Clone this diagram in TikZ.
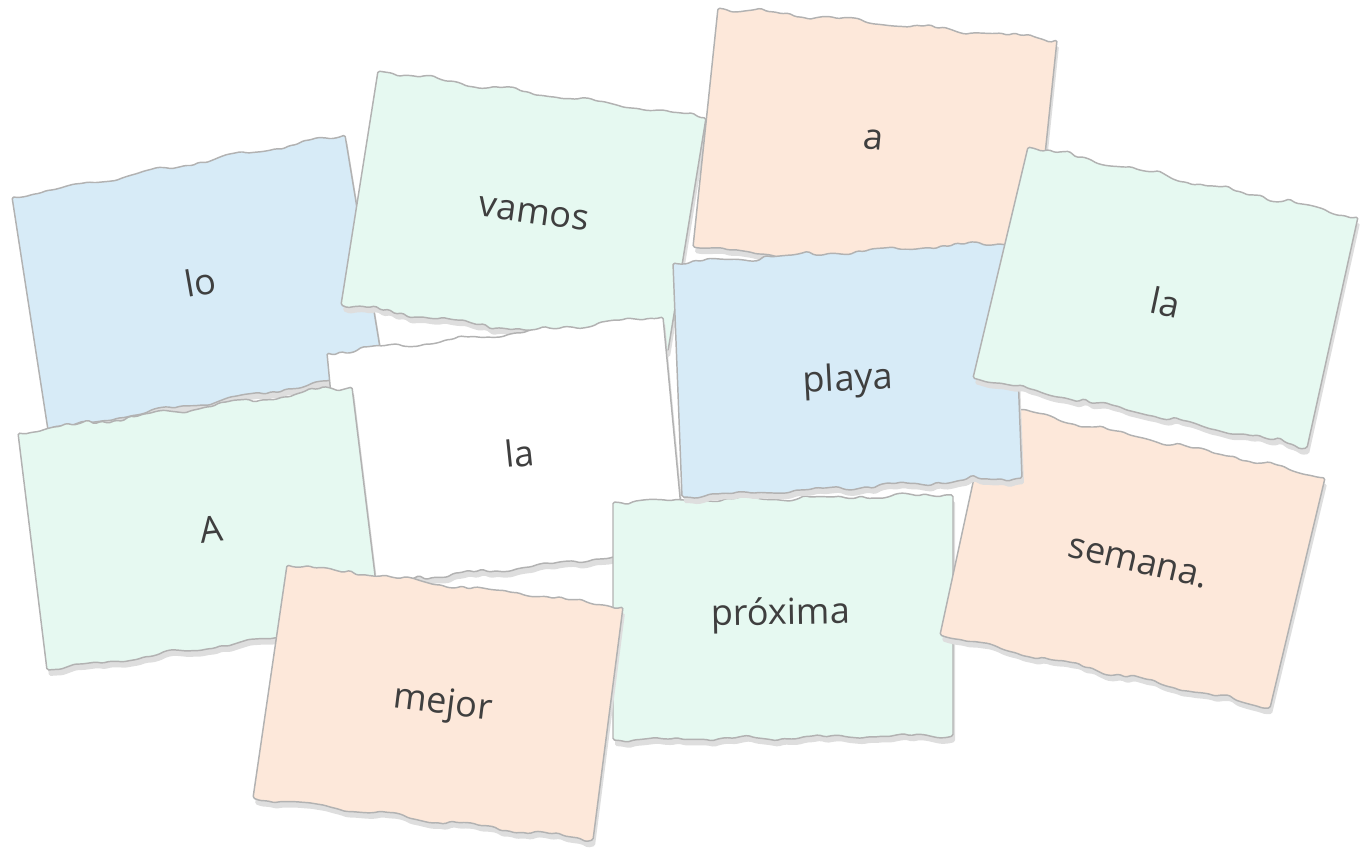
\documentclass[tikz,border=0pt]{standalone}
\usepackage{fontspec}
\setmainfont{Open Sans}
\usetikzlibrary{calc}
\definecolor{cblue}{HTML}{D7EBF7}
\definecolor{cgreen}{HTML}{E6F9F1}
\definecolor{cpeach}{HTML}{FDE8DA}
\definecolor{cwhite}{HTML}{FFFFFF}
\definecolor{edgegray}{HTML}{B2B2B2}
\definecolor{shadowgray}{HTML}{DEDEDE}
\definecolor{textgray}{HTML}{3F3F3F}
\tikzset{
  cardshadow/.style={fill=shadowgray, rounded corners=1.2pt},
  cardbody/.style={draw=edgegray, line width=1.1pt, rounded corners=1.2pt, line join=round},
  word/.style={text=textgray, font=\fontsize{27}{32}\selectfont, inner sep=0pt},
}
\newcommand\tornedge[3]{%
  \foreach \k in {1,...,47} { -- ($(#1)!{\k/48}!(#2) + (0,{1.4*rand + 1.8*sin(\k*31 + #3) - 3*(max(rand,0))^6})$) } -- (#2)
}
\newcommand\papercard[3]{%
  \begin{scope}[transform canvas={xshift=1.5pt, yshift=-4.5pt}]
  \pgfmathsetseed{#3}
  \path[cardshadow] (#1TL) \tornedge{#1TL}{#1TR}{#3} -- (#1BR) \tornedge{#1BR}{#1BL}{#3} -- cycle;
  \end{scope}
  \pgfmathsetseed{#3}
  \path[cardbody, fill=#2] (#1TL) \tornedge{#1TL}{#1TR}{#3} -- (#1BR) \tornedge{#1BR}{#1BL}{#3} -- cycle;
}
\begin{document}
\begin{tikzpicture}[x=0.75pt, y=-0.75pt]
\useasboundingbox (0,0) rectangle (1361,849);
% corners (pixel coordinates, y downwards)
\coordinate (loTL) at (12,197);   \coordinate (loTR) at (345,135);
\coordinate (loBR) at (384,372);  \coordinate (loBL) at (48,430);
\coordinate (vamosTL) at (378,71);  \coordinate (vamosTR) at (706,118);
\coordinate (vamosBR) at (668,351); \coordinate (vamosBL) at (341,305);
\coordinate (whiteTL) at (327,353); \coordinate (whiteTR) at (663,317);
\coordinate (whiteBR) at (685,550); \coordinate (whiteBL) at (349,586);
\coordinate (AcardTL) at (18,433);  \coordinate (AcardTR) at (352,387);
\coordinate (AcardBR) at (381,624); \coordinate (AcardBL) at (47,670);
\coordinate (acardTL) at (718,8);   \coordinate (acardTR) at (1057,40);
\coordinate (acardBR) at (1032,279);\coordinate (acardBL) at (693,247);
\coordinate (proxTL) at (613,502);  \coordinate (proxTR) at (953,495);
\coordinate (proxBR) at (953,736);  \coordinate (proxBL) at (613,740);
\coordinate (semTL) at (990,404);   \coordinate (semTR) at (1325,478);
\coordinate (semBR) at (1270,708);  \coordinate (semBL) at (940,635);
\coordinate (playaTL) at (673,263); \coordinate (playaTR) at (1013,242);
\coordinate (playaBR) at (1022,478);\coordinate (playaBL) at (682,497);
\coordinate (latwoTL) at (1028,147);\coordinate (latwoTR) at (1358,217);
\coordinate (latwoBR) at (1307,448);\coordinate (latwoBL) at (973,378);
\coordinate (mejorTL) at (287,565); \coordinate (mejorTR) at (623,607);
\coordinate (mejorBR) at (593,840); \coordinate (mejorBL) at (253,798);

\papercard{lo}{cblue}{11}
\node[word, rotate=10] (tlo) at (200,282) {lo};
\papercard{vamos}{cgreen}{23}
\node[word, rotate=-8] (tvamos) at (534,214) {vamos};
\papercard{white}{cwhite}{37}
\node[word, rotate=6] (tlaone) at (520,453) {la};
\papercard{Acard}{cgreen}{41}
\node[word, rotate=7] (tA) at (211,529) {A};
\papercard{acard}{cpeach}{53}
\node[word, rotate=-5.5] (ta) at (873,140) {a};
\papercard{prox}{cgreen}{67}
\node[word, rotate=1] (tprox) at (781,615) {próxima};
\papercard{sem}{cpeach}{71}
\node[word, rotate=-13] (tsem) at (1138,563) {semana.};
\papercard{playa}{cblue}{83}
\node[word, rotate=3] (tplaya) at (848,381) {playa};
\papercard{latwo}{cgreen}{97}
\node[word, rotate=-12] (tlatwo) at (1166,302) {la};
\papercard{mejor}{cpeach}{101}
\node[word, rotate=-7] (tmejor) at (443,705) {mejor};
\end{tikzpicture}
\end{document}
